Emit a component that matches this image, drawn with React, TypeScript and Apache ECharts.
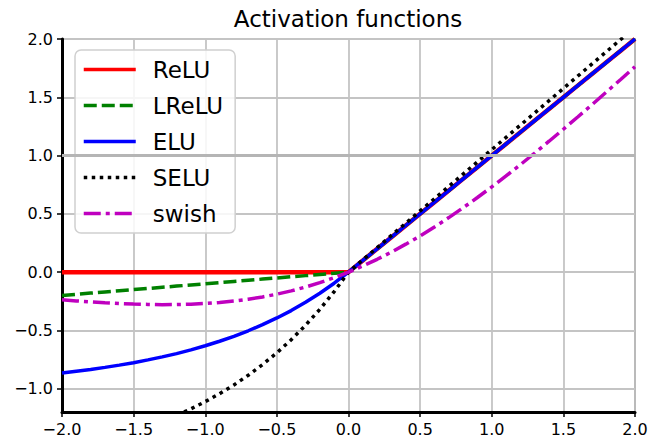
import React, { useEffect, useRef } from "react";
import * as echarts from "echarts";

const xs = [
  -2.0, -1.9, -1.8, -1.7, -1.6, -1.5, -1.4, -1.3, -1.2, -1.1, -1.0,
  -0.9, -0.8, -0.7, -0.6, -0.5, -0.4, -0.3, -0.2, -0.1, 0.0,
  0.1, 0.2, 0.3, 0.4, 0.5, 0.6, 0.7, 0.8, 0.9, 1.0,
  1.1, 1.2, 1.3, 1.4, 1.5, 1.6, 1.7, 1.8, 1.9, 2.0,
];

const relu = [
  0, 0, 0, 0, 0, 0, 0, 0, 0, 0, 0,
  0, 0, 0, 0, 0, 0, 0, 0, 0, 0,
  0.1, 0.2, 0.3, 0.4, 0.5, 0.6, 0.7, 0.8, 0.9, 1.0,
  1.1, 1.2, 1.3, 1.4, 1.5, 1.6, 1.7, 1.8, 1.9, 2.0,
];

const lrelu = [
  -0.2, -0.19, -0.18, -0.17, -0.16, -0.15, -0.14, -0.13, -0.12, -0.11, -0.1,
  -0.09, -0.08, -0.07, -0.06, -0.05, -0.04, -0.03, -0.02, -0.01, 0,
  0.1, 0.2, 0.3, 0.4, 0.5, 0.6, 0.7, 0.8, 0.9, 1.0,
  1.1, 1.2, 1.3, 1.4, 1.5, 1.6, 1.7, 1.8, 1.9, 2.0,
];

const elu = [
  -0.865, -0.850, -0.835, -0.817, -0.798, -0.777, -0.753, -0.727, -0.699, -0.667, -0.632,
  -0.593, -0.551, -0.503, -0.451, -0.393, -0.330, -0.259, -0.181, -0.095, 0,
  0.1, 0.2, 0.3, 0.4, 0.5, 0.6, 0.7, 0.8, 0.9, 1.0,
  1.1, 1.2, 1.3, 1.4, 1.5, 1.6, 1.7, 1.8, 1.9, 2.0,
];

const selu = [
  -1.520, -1.495, -1.467, -1.437, -1.403, -1.366, -1.325, -1.279, -1.229, -1.173, -1.111,
  -1.043, -0.968, -0.885, -0.793, -0.692, -0.580, -0.456, -0.319, -0.167, 0,
  0.105, 0.210, 0.315, 0.420, 0.525, 0.630, 0.735, 0.841, 0.946, 1.051,
  1.156, 1.261, 1.366, 1.471, 1.576, 1.681, 1.786, 1.891, 1.996, 2.101,
];

const swish = [
  -0.238, -0.247, -0.255, -0.263, -0.269, -0.274, -0.277, -0.279, -0.278, -0.275, -0.269,
  -0.260, -0.248, -0.232, -0.213, -0.189, -0.161, -0.128, -0.090, -0.048, 0,
  0.053, 0.110, 0.172, 0.240, 0.311, 0.387, 0.468, 0.552, 0.640, 0.731,
  0.825, 0.922, 1.022, 1.123, 1.226, 1.331, 1.437, 1.545, 1.653, 1.762,
];

const yTicks = [-1.0, -0.5, 0.0, 0.5, 1.0, 1.5, 2.0];
const seriesNames = ["ReLU", "LReLU", "ELU", "SELU", "swish"];
const title = "Activation functions";

const FONT = "DejaVu Sans";
const fmt = (v: number) => v.toFixed(1).replace("-", "\u2212");

export default function App() {
  const ref = useRef<HTMLDivElement>(null);
  useEffect(() => {
    if (!ref.current) return;
    const chart = echarts.init(ref.current, undefined, { renderer: "svg" });
    const pts = (ys: number[]) => xs.map((x, i) => [x, ys[i]]);
    const base = {
      type: "line",
      showSymbol: false,
      symbol: "none",
      clip: true,
      smooth: false,
    };
    chart.setOption({
      animation: false,
      backgroundColor: "#ffffff",
      title: {
        text: title,
        left: 348,
        textAlign: "center",
        top: 7,
        padding: 0,
        textStyle: { fontFamily: FONT, fontSize: 23, fontWeight: "normal", color: "#000" },
      },
      legend: {
        data: seriesNames,
        orient: "vertical",
        left: 75,
        top: 50,
        padding: [8, 12, 8, 7],
        itemWidth: 52,
        itemHeight: 14,
        itemGap: 13,
        backgroundColor: "rgba(255,255,255,0.85)",
        borderColor: "#d0d0d0",
        borderWidth: 1.5,
        borderRadius: 6,
        itemStyle: { opacity: 0 },
        lineStyle: { width: 3.5 },
        textStyle: {
          fontFamily: FONT,
          fontSize: 23,
          color: "#000",
          padding: [0, 0, 0, 12],
        },
      },
      grid: {
        left: 62,
        right: 17,
        top: 39,
        bottom: 26,
        show: true,
        borderColor: "#000",
        borderWidth: 1.2,
      },
      xAxis: {
        type: "value",
        min: -2,
        max: 2,
        interval: 0.5,
        axisLine: { show: true, onZero: false, lineStyle: { color: "#000", width: 3 } },
        axisTick: { show: true, inside: false, length: 5, lineStyle: { color: "#000", width: 1.5 } },
        axisLabel: {
          margin: 9,
          fontFamily: FONT,
          fontSize: 16,
          color: "#000",
          formatter: (v: number) => fmt(v),
        },
        splitLine: { show: true, lineStyle: { color: "#c4c4c4", width: 1.8 } },
      },
      yAxis: {
        type: "value",
        min: -1.2,
        max: 2,
        axisLine: { show: true, onZero: false, lineStyle: { color: "#000", width: 3 } },
        axisTick: {
          show: true,
          inside: false,
          length: 5,
          customValues: yTicks,
          lineStyle: { color: "#000", width: 1.5 },
        },
        axisLabel: {
          margin: 9,
          fontFamily: FONT,
          fontSize: 16,
          color: "#000",
          customValues: yTicks,
          formatter: (v: number) => fmt(v),
        },
        splitLine: { show: true, lineStyle: { color: "#c4c4c4", width: 1.8 } },
      },
      series: [
        {
          ...base,
          name: "ReLU",
          data: pts(relu),
          lineStyle: { color: "#ff0000", width: 4.5, type: "solid" },
          itemStyle: { color: "#ff0000" },
          markLine: {
            silent: true,
            symbol: "none",
            label: { show: false },
            lineStyle: { color: "#b5b5b5", width: 3, type: "solid" },
            data: [{ yAxis: 1 }],
          },
        },
        {
          ...base,
          name: "LReLU",
          data: pts(lrelu),
          lineStyle: { color: "#008000", width: 3.5, type: [13, 5] },
          itemStyle: { color: "#008000" },
        },
        {
          ...base,
          name: "ELU",
          data: pts(elu),
          lineStyle: { color: "#0000ff", width: 3.5, type: "solid" },
          itemStyle: { color: "#0000ff" },
        },
        {
          ...base,
          name: "SELU",
          data: pts(selu),
          lineStyle: { color: "#000000", width: 3.5, type: [3.5, 4.5] },
          itemStyle: { color: "#000000" },
        },
        {
          ...base,
          name: "swish",
          data: pts(swish),
          lineStyle: { color: "#bf00bf", width: 3.5, type: [17, 5, 4, 5] },
          itemStyle: { color: "#bf00bf" },
        },
      ],
    });
    return () => chart.dispose();
  }, []);
  return (
    <div
      ref={ref}
      style={{ position: "fixed", left: 0, top: 0, width: 652, height: 438 }}
    />
  );
}
